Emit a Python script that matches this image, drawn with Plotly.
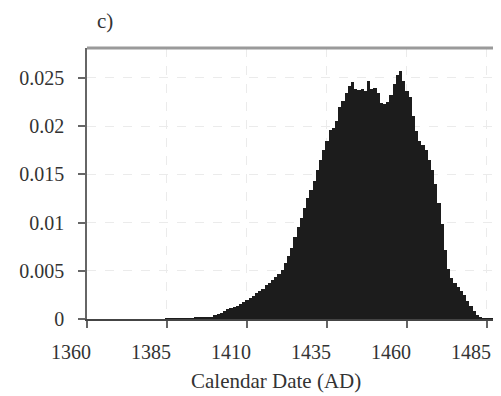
import plotly.graph_objects as go

years = list(range(1385, 1491))
density = [
    0.00002, 0.00002, 0.00003, 0.00003, 0.00004,  # 1385-1389
    0.00005, 0.00006, 0.00007, 0.00009, 0.00011,  # 1390-1394
    0.00013, 0.00015, 0.00018, 0.00020, 0.00025,  # 1395-1399
    0.00040, 0.00055, 0.00065, 0.00085, 0.00100,  # 1400-1404
    0.00110, 0.00125, 0.00140, 0.00160, 0.00180,  # 1405-1409
    0.00200, 0.00215, 0.00240, 0.00270, 0.00290,  # 1410-1414
    0.00315, 0.00350, 0.00370, 0.00400, 0.00440,  # 1415-1419
    0.00470, 0.00510, 0.00580, 0.00650, 0.00740,  # 1420-1424
    0.00850, 0.00950, 0.01050, 0.01150, 0.01250,  # 1425-1429
    0.01340, 0.01430, 0.01550, 0.01650, 0.01750,  # 1430-1434
    0.01850, 0.01960, 0.01980, 0.02050, 0.02200,  # 1435-1439
    0.02260, 0.02340, 0.02420, 0.02460, 0.02380,  # 1440-1444
    0.02370, 0.02380, 0.02360, 0.02470, 0.02380,  # 1445-1449
    0.02400, 0.02340, 0.02240, 0.02230, 0.02250,  # 1450-1454
    0.02320, 0.02440, 0.02530, 0.02570, 0.02470,  # 1455-1459
    0.02360, 0.02300, 0.02100, 0.01950, 0.01850,  # 1460-1464
    0.01800, 0.01750, 0.01650, 0.01550, 0.01400,  # 1465-1469
    0.01200, 0.00980, 0.00720, 0.00520, 0.00420,  # 1470-1474
    0.00370, 0.00330, 0.00290, 0.00250, 0.00190,  # 1475-1479
    0.00130, 0.00080, 0.00040, 0.00015, 0.00005,  # 1480-1484
    0.00002, 0.00001, 0.00001, 0.00001, 0.00001,  # 1485-1489
    0.00001,                                      # 1490
]

x_ticks = [1360, 1385, 1410, 1435, 1460, 1485]
y_ticks = [0, 0.005, 0.01, 0.015, 0.02, 0.025]
y_tick_labels = ["0", "0.005", "0.01", "0.015", "0.02", "0.025"]

FONT = "Liberation Serif, Times New Roman, serif"

# page body has an 8px default margin; the figure is sized to fill the rest
W, H = 493, 388
L, R, T, B = 79, 0, 40, 77
PH = H - T - B  # plot height

fig = go.Figure()
fig.add_trace(go.Bar(
    x=years, y=density, width=1.0,
    marker=dict(color="#1c1c1c", line=dict(width=0)),
    showlegend=False,
))

fig.update_layout(
    width=W, height=H,
    margin=dict(l=L, r=R, t=T, b=B),
    plot_bgcolor="white", paper_bgcolor="white",
    bargap=0,
    font=dict(family=FONT, size=18, color="#333333"),
    xaxis=dict(
        range=[1360, 1489.4], automargin=False,
        tickvals=x_ticks, ticktext=[str(v) for v in x_ticks],
        ticks="outside", ticklen=7, tickcolor="#666666", tickwidth=1.5,
        showline=True, linecolor="#444444", linewidth=1.5,
        showgrid=True, gridcolor="#ebebeb", griddash="dash", gridwidth=1,
        zeroline=False,
        ticklabelshift=-16, ticklabelstandoff=7,
        tickfont=dict(family=FONT, size=20, color="#333333"),
    ),
    yaxis=dict(
        range=[0, 0.0281], automargin=False,
        tickvals=y_ticks, ticktext=y_tick_labels,
        ticks="outside", ticklen=7, tickcolor="#666666", tickwidth=1.5,
        showline=True, linecolor="#666666", linewidth=1.5,
        showgrid=True, gridcolor="#ebebeb", griddash="dash", gridwidth=1,
        zeroline=False,
        ticklabelstandoff=10,
        tickfont=dict(family=FONT, size=20, color="#333333"),
    ),
    shapes=[dict(
        type="line", xref="paper", yref="paper",
        x0=0, x1=1, y0=1, y1=1,
        line=dict(color="#9a9a9a", width=3),
    )],
    annotations=[
        dict(text="Calendar Date (AD)", xref="paper", yref="paper",
             x=(276 - 87) / (W - L - R), y=-(381 - 319) / PH,
             xanchor="center", yanchor="middle",
             showarrow=False, font=dict(family=FONT, size=21, color="#333333")),
        dict(text="c)", xref="paper", yref="paper",
             x=(95 - 87) / (W - L - R), y=(319 - 21) / PH,
             xanchor="left", yanchor="middle",
             showarrow=False, font=dict(family=FONT, size=21, color="#333333")),
    ],
)

fig.write_html("out.html")
